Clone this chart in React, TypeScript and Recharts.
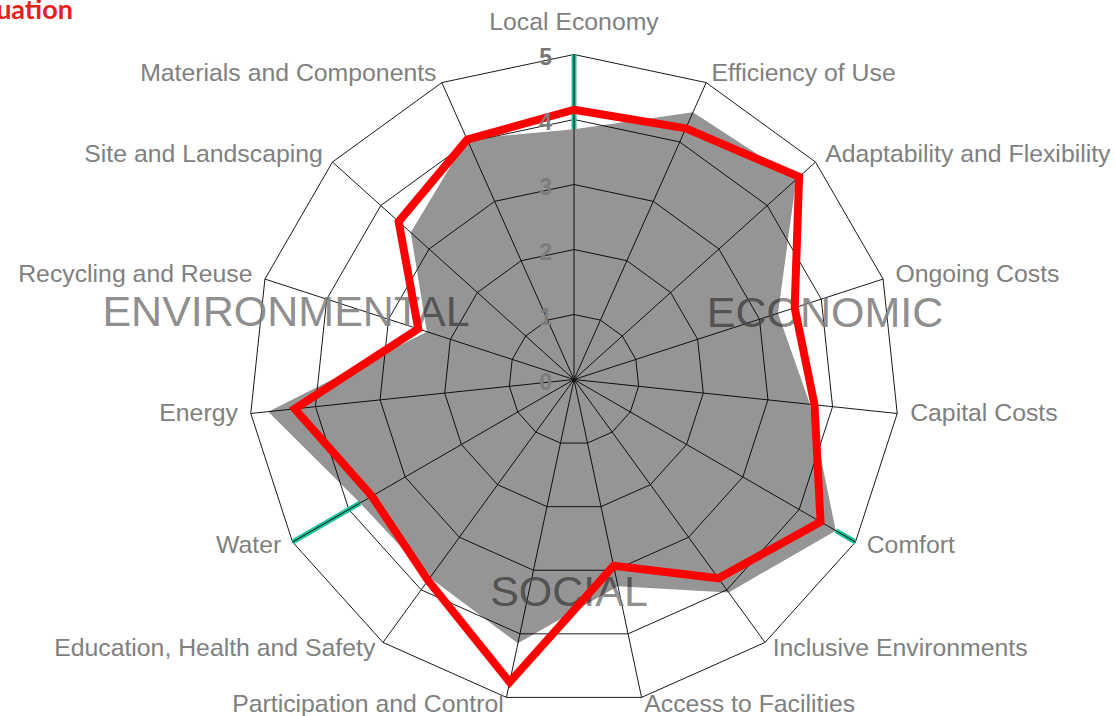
import React from 'react'
import { RadarChart, Radar, PolarGrid, PolarAngleAxis, PolarRadiusAxis } from 'recharts'

const subjects = [
  'Local Economy',
  'Efficiency of Use',
  'Adaptability and Flexibility',
  'Ongoing Costs',
  'Capital Costs',
  'Comfort',
  'Inclusive Environments',
  'Access to Facilities',
  'Participation and Control',
  'Education, Health and Safety',
  'Water',
  'Energy',
  'Recycling and Reuse',
  'Site and Landscaping',
  'Materials and Components',
]

// grey filled area
const benchmark = [3.85, 4.5, 4.6, 3.3, 3.65, 4.65, 4.05, 3.25, 4.15, 3.77, 3.8, 4.73, 2.38, 3.38, 4.05]
// red outline
const score = [4.15, 4.23, 4.66, 3.57, 3.72, 4.38, 3.78, 2.93, 4.76, 3.82, 3.59, 4.32, 2.52, 3.63, 4.04]

const radiusTicks = [0, 1, 2, 3, 4, 5]
const sectionNames = ['ECONOMIC', 'SOCIAL', 'ENVIRONMENTAL']
const sectionStarts = [0, 5, 10]

const data = subjects.map((subject, i) => ({ subject, benchmark: benchmark[i], score: score[i] }))

const W = 1115
const H = 716
const CX = 574
const CY = 379.5
const R = 325
const MAX = 5
const FONT = "'Liberation Sans', Arial, sans-serif"

const angleOf = (i: number) => (i * 2 * Math.PI) / subjects.length

function AngleTick(props: any) {
  const { payload } = props
  const i = subjects.indexOf(payload.value)
  const s = Math.sin(angleOf(i))
  const c = Math.cos(angleOf(i))
  const x = CX + 338 * s
  let y = CY - 334 * c - 2.5
  const anchor = s > 0.01 ? 'start' : s < -0.01 ? 'end' : 'middle'
  if (anchor === 'middle' && c > 0) y -= 22
  return (
    <text x={x} y={y} dy="0.35em" textAnchor={anchor} fill="#808080" fontSize={24.8} fontFamily={FONT}>
      {payload.value}
    </text>
  )
}

function RadiusTick(props: any) {
  const { x, y, payload } = props
  return (
    <text
      x={x - 22}
      y={y + 2}
      dy="0.35em"
      textAnchor="end"
      fontSize={23}
      fontWeight="bold"
      fill={payload.value === MAX ? '#777' : '#7c7c7c'}
      fontFamily={FONT}
    >
      {payload.value}
    </text>
  )
}

// teal dividers between the three sections, outside the grey area
function SectionLines() {
  return (
    <g>
      {sectionStarts.map((i) => {
        const s = Math.sin(angleOf(i))
        const c = Math.cos(angleOf(i))
        const r0 = (R * benchmark[i]) / MAX
        const x1 = CX + r0 * s
        const y1 = CY - r0 * c
        const x2 = CX + R * s
        const y2 = CY - R * c
        return (
          <g key={i}>
            <line x1={x1} y1={y1} x2={x2} y2={y2} stroke="#1cc39a" strokeWidth={5} />
            <line x1={x1} y1={y1} x2={x2} y2={y2} stroke="#111" strokeWidth={1} />
          </g>
        )
      })}
    </g>
  )
}

function SectionLabels() {
  const pos = [
    { x: CX + 251, y: CY - 53 },
    { x: CX - 5, y: CY + 226 },
    { x: CX - 288, y: CY - 54 },
  ]
  return (
    <g>
      {sectionNames.map((name, i) => (
        <text
          key={name}
          x={pos[i].x}
          y={pos[i].y}
          textAnchor="middle"
          fontSize={43}
          fill="#808080"
          fillOpacity={0.9}
          fontFamily={FONT}
        >
          {name}
        </text>
      ))}
    </g>
  )
}

export default function App() {
  return (
    <div style={{ position: 'absolute', left: 0, top: 0, width: W, height: H, background: '#fff' }}>
      <RadarChart width={W} height={H} data={data} cx={CX} cy={CY} outerRadius={R}>
        <PolarGrid gridType="polygon" stroke="#1a1a1a" strokeWidth={1} strokeOpacity={1} />
        <PolarAngleAxis dataKey="subject" tick={<AngleTick />} tickLine={false} axisLine={false} />
        <SectionLines />
        <Radar
          dataKey="benchmark"
          fill="#000"
          fillOpacity={0.415}
          stroke="none"
          dot={false}
          isAnimationActive={false}
        />
        <SectionLabels />
        <Radar
          dataKey="score"
          fill="none"
          fillOpacity={0}
          stroke="#ff0000"
          strokeWidth={8}
          dot={false}
          isAnimationActive={false}
        />
        <PolarRadiusAxis
          angle={90}
          domain={[0, MAX]}
          ticks={radiusTicks as any}
          tickCount={radiusTicks.length}
          axisLine={false}
          tickLine={false}
          tick={<RadiusTick />}
        />
        <text x={73} y={19} textAnchor="end" fill="#e2231a" fontSize={27} fontWeight="bold" fontFamily="Lato, sans-serif">
          Evaluation
        </text>
      </RadarChart>
    </div>
  )
}
